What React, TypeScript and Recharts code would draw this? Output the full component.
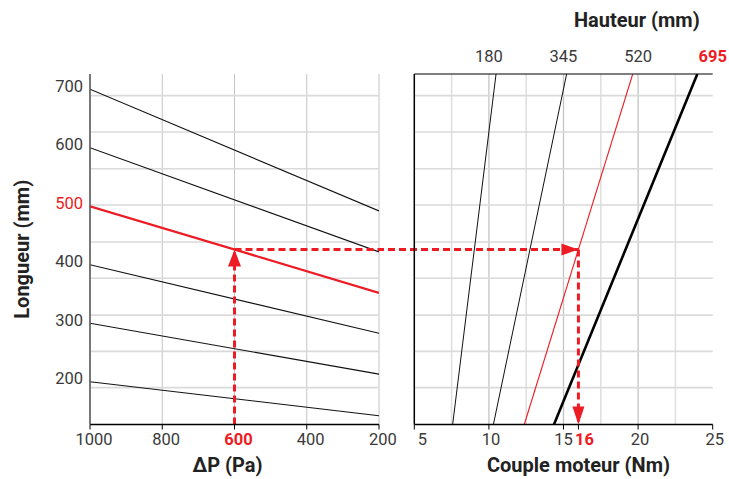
import React from 'react';
import {
  ComposedChart,
  Line,
  XAxis,
  YAxis,
  CartesianGrid,
  ReferenceLine,
  ReferenceDot,
  Label,
} from 'recharts';

// ---------- data ----------
// Left panel: ΔP (Pa) on a reversed axis, Longueur (mm) vertically
const pressureTicks = [1000, 800, 600, 400, 200];
const pressureStart = 1000;
const pressureEnd = 200;
const lengthAtStart = [700, 600, 500, 400, 300, 200];
const lengthAtEnd = [492, 422, 352, 283, 213, 142];
const highlightedLength = 500;

const lengthTicks = [200, 300, 400, 500, 600, 700];
const lengthMin = 127;
const lengthMax = 726;
const lengthGridRows = [190, 252, 314, 377, 439, 502, 564, 627, 689];

// Right panel: Couple moteur (Nm) horizontally, one line per Hauteur (mm)
const torqueTicks = [5, 10, 15, 16, 20, 25];
const torqueMin = 5;
const torqueMax = 25;
const torqueMajorGrid = [10, 15, 20];
const torqueMinorGrid = [7.5, 12.5, 17.5, 22.5];
const heightTickPositions = [10, 15, 20, 25];
const heightLabels = ['180', '345', '520', '695'];
const highlightedHeight = '695';
const torqueAtLengthMin = [7.57, 10.3, 12.37, 14.36];
const torqueAtLengthMax = [10.48, 15.21, 19.64, 23.97];

// Worked example (red dashed path)
const selectedPressure = 600;
const selectedLength = 426;
const resultTorque = 16;
const bridgeTorque = 2.5;

// ---------- styling ----------
const RED = '#ed1c24';
const TICK_GRAY = '#3a3a3a';
const TICK_FONT = "Roboto, 'Liberation Sans', sans-serif";
const TITLE_FONT = "Roboto, 'Liberation Sans', sans-serif";
const TICK_SIZE = 16.5;
const DASH = '7 4';
const GRID_LIGHT = '#e0e0e0';
const GRID_ROW = '#dadada';
const GRID_MID = '#c4c4c4';

const leftLines = lengthAtStart.map((l0, i) => ({
  start: l0,
  data: [
    { p: pressureStart, l: l0 },
    { p: pressureEnd, l: lengthAtEnd[i] },
  ],
}));

const rightLines = heightLabels.map((h, i) => ({
  height: h,
  data: [
    { t: torqueAtLengthMin[i], l: lengthMin },
    { t: torqueAtLengthMax[i], l: lengthMax },
  ],
}));

const rightLineStyle = (h: string) => {
  if (h === '520') return { stroke: RED, strokeWidth: 1.1 };
  if (h === '695') return { stroke: '#000', strokeWidth: 2.6 };
  return { stroke: '#111', strokeWidth: 1 };
};

function LeftYTick(props: any) {
  const { x, y, payload } = props;
  const v = payload.value;
  const hl = v === highlightedLength;
  return (
    <text x={x + 6} y={y} dy={-3} textAnchor="end" dominantBaseline="central" fill={hl ? RED : TICK_GRAY}
      fontFamily={TICK_FONT} fontSize={TICK_SIZE}>
      {v}
    </text>
  );
}

function PressureTick(props: any) {
  const { x, y, payload } = props;
  const v = payload.value;
  const hl = v === selectedPressure;
  return (
    <text x={x + 4} y={y} dy="0.72em" textAnchor="middle" fill={hl ? RED : TICK_GRAY}
      fontFamily={TICK_FONT} fontSize={TICK_SIZE} fontWeight={hl ? 'bold' : 'normal'}>
      {v}
    </text>
  );
}

function TorqueTick(props: any) {
  const { x, y, payload } = props;
  const v = payload.value;
  const hl = v === resultTorque;
  const dx = v === torqueMin ? 8 : hl ? 6 : v === 15 ? 0 : 2;
  return (
    <text x={x + dx} y={y} dy="0.72em" textAnchor="middle" fill={hl ? RED : TICK_GRAY}
      fontFamily={TICK_FONT} fontSize={TICK_SIZE} fontWeight={hl ? 'bold' : 'normal'}>
      {v}
    </text>
  );
}

function HeightLabel(props: any) {
  const { viewBox, value } = props;
  const hl = value === highlightedHeight;
  return (
    <text x={viewBox.x} y={62} textAnchor="middle" fill={hl ? RED : TICK_GRAY}
      fontFamily={TICK_FONT} fontSize={TICK_SIZE} fontWeight={hl ? 'bold' : 'normal'}>
      {value}
    </text>
  );
}

function BottomTitle(props: any) {
  const { viewBox, value, dx } = props;
  const cx = viewBox.x + viewBox.width / 2 + (dx || 0);
  return (
    <text x={cx} y={viewBox.y + 47} textAnchor="middle" fill="#222" fontFamily={TITLE_FONT}
      fontWeight="bold" fontSize={20}>
      {value}
    </text>
  );
}

function TopTitle(props: any) {
  const { viewBox, value } = props;
  return (
    <text x={viewBox.x + viewBox.width - 13} y={27} textAnchor="end" fill="#222" fontFamily={TITLE_FONT}
      fontWeight="bold" fontSize={20}>
      {value}
    </text>
  );
}

function SideTitle(props: any) {
  const { viewBox, value } = props;
  const cx = viewBox.x + 22;
  const cy = viewBox.y + viewBox.height / 2;
  return (
    <text x={cx} y={cy} transform={`rotate(-90 ${cx} ${cy})`} textAnchor="middle" dominantBaseline="central"
      fill="#222" fontFamily={TITLE_FONT} fontWeight="bold" fontSize={20}>
      {value}
    </text>
  );
}

const ArrowUp = (p: any) => (
  <path d={`M${p.cx},${p.cy} L${p.cx - 6.5},${p.cy + 17} L${p.cx + 6.5},${p.cy + 17} Z`} fill={RED} />
);
const ArrowRight = (p: any) => (
  <path d={`M${p.cx},${p.cy} L${p.cx - 17},${p.cy - 6} L${p.cx - 17},${p.cy + 6} Z`} fill={RED} />
);
const ArrowDown = (p: any) => (
  <path d={`M${p.cx},${p.cy} L${p.cx - 6},${p.cy - 18} L${p.cx + 6},${p.cy - 18} Z`} fill={RED} />
);

export default function App() {
  return (
    <div style={{ position: 'absolute', left: 0, top: 0, width: 729, height: 479, background: '#fff' }}>
      {/* Left panel */}
      <div style={{ position: 'absolute', left: 0, top: 0 }}>
        <ComposedChart width={402} height={479} margin={{ top: 74, right: 23, bottom: 24.5, left: 0 }}>
          <CartesianGrid horizontal={false} stroke={GRID_MID} strokeWidth={1} />
          <XAxis type="number" dataKey="p" domain={[pressureEnd, pressureStart]} reversed allowDataOverflow
            ticks={pressureTicks} interval={0} tick={<PressureTick />} tickSize={5} tickMargin={4}
            tickLine={{ stroke: '#000' }} axisLine={{ stroke: '#000', strokeWidth: 1.5 }} height={30}>
            <Label content={<BottomTitle value="ΔP (Pa)" dx={-7} />} />
          </XAxis>
          <XAxis xAxisId="frameTop" orientation="top" type="number" domain={[0, 1]} height={0} tick={false}
            tickLine={false} axisLine={{ stroke: '#000', strokeWidth: 1.2 }} />
          <YAxis type="number" dataKey="l" domain={[lengthMin, lengthMax]} allowDataOverflow ticks={lengthTicks}
            interval={0} width={90} tickLine={false} tickMargin={7} tick={<LeftYTick />}
            axisLine={{ stroke: '#555', strokeWidth: 1.5 }}>
            <Label content={<SideTitle value="Longueur (mm)" />} />
          </YAxis>
          <YAxis yAxisId="frameRight" orientation="right" type="number" domain={[0, 1]} width={0} tick={false}
            tickLine={false} axisLine={{ stroke: '#000', strokeWidth: 1.5 }} />
          {lengthGridRows.map((v) => (
            <ReferenceLine key={`lg${v}`} y={v} stroke={GRID_ROW} strokeWidth={1.6} />
          ))}
          {leftLines.map((ln) => (
            <Line key={ln.start} data={ln.data} dataKey="l" type="linear" dot={false} activeDot={false}
              isAnimationActive={false}
              stroke={ln.start === highlightedLength ? RED : '#111'}
              strokeWidth={ln.start === highlightedLength ? 2.2 : 1.1} />
          ))}
          <ReferenceLine segment={[{ x: selectedPressure, y: lengthMin }, { x: selectedPressure, y: selectedLength }]}
            stroke={RED} strokeWidth={3} strokeDasharray={DASH} />
          <ReferenceLine segment={[{ x: selectedPressure, y: selectedLength }, { x: pressureEnd, y: selectedLength }]}
            stroke={RED} strokeWidth={3} strokeDasharray={DASH} />
          <ReferenceDot x={selectedPressure} y={selectedLength} r={0} shape={ArrowUp} />
        </ComposedChart>
      </div>

      {/* Right panel */}
      <div style={{ position: 'absolute', left: 379, top: 0 }}>
        <ComposedChart width={350} height={479} margin={{ top: 0, right: 16.3, bottom: 24.5, left: 0 }}>
          {torqueMinorGrid.map((v) => (
            <ReferenceLine key={`mi${v}`} x={v} stroke={GRID_LIGHT} strokeWidth={1.6} />
          ))}
          {torqueMajorGrid.map((v) => (
            <ReferenceLine key={`ma${v}`} x={v} stroke={GRID_MID} strokeWidth={1.3} />
          ))}
          {lengthGridRows.map((v) => (
            <ReferenceLine key={`rg${v}`} y={v} stroke={GRID_ROW} strokeWidth={1.6} />
          ))}
          <XAxis type="number" dataKey="t" domain={[torqueMin, torqueMax]} allowDataOverflow ticks={torqueTicks}
            interval={0} tick={<TorqueTick />} tickSize={5} tickMargin={4} tickLine={{ stroke: '#000' }}
            axisLine={{ stroke: '#000', strokeWidth: 1.5 }} height={30}>
            <Label content={<BottomTitle value="Couple moteur (Nm)" dx={15} />} />
          </XAxis>
          <XAxis xAxisId="top" orientation="top" type="number" domain={[torqueMin, torqueMax]} height={74}
            tick={false} tickLine={false} axisLine={{ stroke: '#000', strokeWidth: 1.2 }}>
            <Label content={<TopTitle value="Hauteur (mm)" />} />
          </XAxis>
          <YAxis type="number" dataKey="l" domain={[lengthMin, lengthMax]} allowDataOverflow ticks={lengthTicks}
            width={35.3} tick={false} tickLine={false} axisLine={{ stroke: '#000', strokeWidth: 1.5 }} />
          <YAxis yAxisId="frameRight" orientation="right" type="number" domain={[0, 1]} width={0} tick={false}
            tickLine={false} axisLine={{ stroke: '#000', strokeWidth: 1.5 }} />
          {heightTickPositions.map((x, i) => (
            <ReferenceDot key={`h${x}`} x={x} y={lengthMax} r={0} ifOverflow="visible"
              label={<HeightLabel value={heightLabels[i]} />} />
          ))}
          {rightLines.map((ln) => (
            <Line key={ln.height} data={ln.data} dataKey="l" type="linear" dot={false} activeDot={false}
              isAnimationActive={false} {...rightLineStyle(ln.height)} />
          ))}
          <ReferenceLine segment={[{ x: bridgeTorque, y: selectedLength }, { x: resultTorque, y: selectedLength }]}
            ifOverflow="visible" stroke={RED} strokeWidth={3} strokeDasharray={DASH} />
          <ReferenceLine segment={[{ x: resultTorque, y: selectedLength }, { x: resultTorque, y: lengthMin }]}
            stroke={RED} strokeWidth={3} strokeDasharray={DASH} />
          <ReferenceDot x={resultTorque} y={selectedLength} r={0} shape={ArrowRight} />
          <ReferenceDot x={resultTorque} y={lengthMin} r={0} shape={ArrowDown} />
        </ComposedChart>
      </div>
    </div>
  );
}
